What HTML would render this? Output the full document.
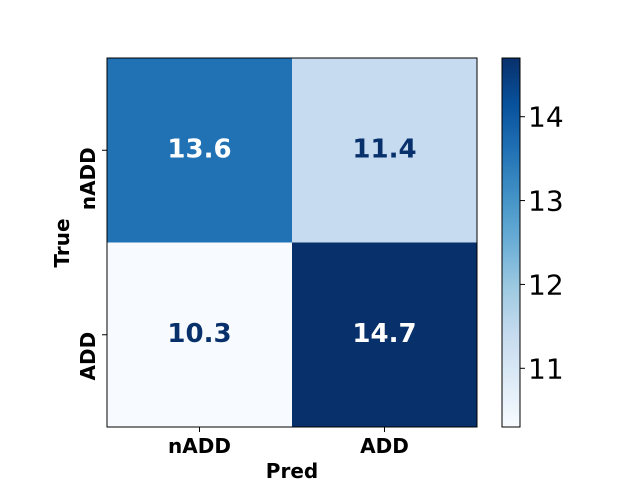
<!DOCTYPE html>
<html><head><meta charset="utf-8"><style>
body{margin:0;background:#fff;}
svg{display:block;font-family:"DejaVu Sans","Liberation Sans",sans-serif;}
</style></head><body>
<svg id="chart" width="640" height="480" viewBox="0 0 640 480">
<defs>
<linearGradient id="blues" x1="0" y1="1" x2="0" y2="0">
<stop offset="0" stop-color="#f7fbff"/><stop offset="0.125" stop-color="#deebf7"/>
<stop offset="0.25" stop-color="#c6dbef"/><stop offset="0.375" stop-color="#9ecae1"/>
<stop offset="0.5" stop-color="#6baed6"/><stop offset="0.625" stop-color="#4292c6"/>
<stop offset="0.75" stop-color="#2171b5"/><stop offset="0.875" stop-color="#08519c"/>
<stop offset="1" stop-color="#08306b"/>
</linearGradient>
</defs>
<g id="cells"></g>
<rect x="107" y="58" width="370" height="369" fill="none" stroke="#000" stroke-width="1"/>
<g id="axes"></g>
<text x="292" y="478" text-anchor="middle" font-size="20" font-weight="bold">Pred</text>
<text transform="translate(69,243) rotate(-90)" text-anchor="middle" font-size="20" font-weight="bold">True</text>
<rect x="502" y="58" width="18" height="369" fill="url(#blues)" stroke="#000" stroke-width="1"/>
<g id="cbar"></g>
</svg>
<script>
const categories = ["nADD", "ADD"];
const values = [[13.6, 11.4], [10.3, 14.7]];
const cbarTicks = [11, 12, 13, 14];
const vmin = 10.3, vmax = 14.7;

const stops = [[247,251,255],[222,235,247],[198,219,239],[158,202,225],[107,174,214],[66,146,198],[33,113,181],[8,81,156],[8,48,107]];
function color(v){let t=(v-vmin)/(vmax-vmin);t=Math.max(0,Math.min(1,t));const p=t*8,i=Math.min(7,Math.floor(p)),f=p-i;
const c=stops[i].map((a,k)=>Math.round(a+(stops[i+1][k]-a)*f));return `rgb(${c})`;}
const X0=107,Y0=58,W=370,H=369,n=categories.length,cw=W/n,ch=H/n;
const xPos=j=>X0+cw*j, yPos=i=>Y0+ch*i;
const NS="http://www.w3.org/2000/svg";
function mk(tag,attrs,parent,txt){const e=document.createElementNS(NS,tag);for(const k in attrs)e.setAttribute(k,attrs[k]);if(txt!==undefined)e.textContent=txt;parent.appendChild(e);return e;}
const cells=document.getElementById('cells'),axes=document.getElementById('axes'),cbar=document.getElementById('cbar');
values.forEach((row,i)=>row.forEach((v,j)=>{
  const r=mk('rect',{x:xPos(j),y:yPos(i),width:cw,height:ch,fill:color(v)},cells);
  
  
  const t=mk('text',{x:xPos(j)+cw/2,y:yPos(i)+ch/2+7,'text-anchor':'middle','font-size':'26','font-weight':'bold',fill:(v-vmin)/(vmax-vmin)>0.5?'#fff':'#08306b'},cells,v.toFixed(1));
  
  
}));
categories.forEach((c,k)=>{
  const cx=xPos(k)+cw/2;
  mk('line',{x1:cx,x2:cx,y1:427,y2:432,stroke:'#000'},axes);
  const tx=mk('text',{x:cx,y:453,'text-anchor':'middle','font-size':'20','font-weight':'bold'},axes,c);
  
  
  const cy=yPos(k)+ch/2;
  mk('line',{x1:102,x2:107,y1:cy,y2:cy,stroke:'#000'},axes);
  const ty=mk('text',{transform:`translate(95,${cy-3}) rotate(-90)`,'text-anchor':'end','font-size':'20','font-weight':'bold'},axes,c);
  
  
});
cbarTicks.forEach(v=>{
  const y=427-(v-vmin)/(vmax-vmin)*369;
  mk('line',{x1:520,x2:525,y1:y,y2:y,stroke:'#000'},cbar);
  const t=mk('text',{x:528,y:y+10,'font-size':'28'},cbar,String(v));
  
  
});
</script>
</body></html>
